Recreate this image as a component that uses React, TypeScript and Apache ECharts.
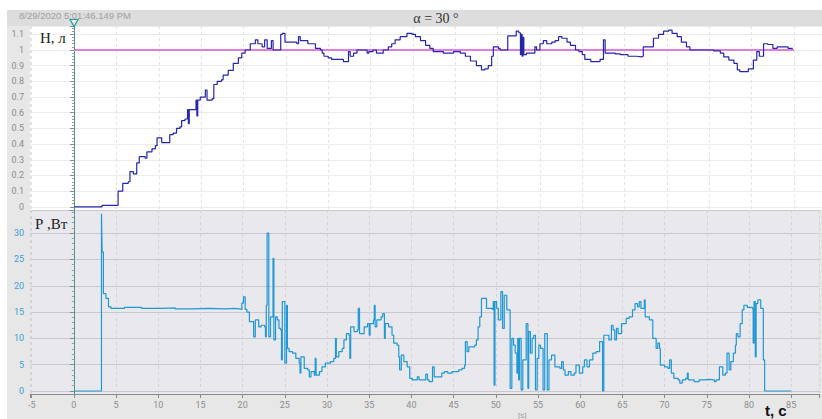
import React, { useEffect, useRef } from "react";
import * as echarts from "echarts";

// Level H (л) – time (s) and value, sample-and-hold
const hT = [0, 3.3, 5.2, 5.75, 6.4, 6.6, 7.0, 7.4, 7.7, 8.4, 8.6, 9.2, 9.6, 9.8, 10.35, 11.3, 11.7, 12.1, 12.5, 12.7, 13.1, 13.4, 13.5, 13.6, 14.4, 14.5, 14.6, 14.9, 15.5, 15.7, 16.3, 16.5, 16.9, 17.4, 17.6, 18.2, 18.8, 19.4, 19.8, 20.2, 20.8, 21.4, 21.7, 22.2, 22.5, 22.8, 23.3, 23.5, 24.4, 24.6, 24.9, 26.3, 26.5, 26.7, 27.6, 28.5, 29.1, 29.3, 29.5, 30.0, 30.4, 31.8, 32.4, 32.6, 33.0, 33.4, 34.6, 34.8, 35.3, 35.7, 36.5, 37.1, 37.5, 37.9, 38.5, 39.3, 39.9, 40.3, 40.9, 41.5, 42.0, 42.4, 43.6, 44.8, 45.6, 46.2, 46.8, 47.5, 48.1, 48.5, 48.9, 49.3, 49.5, 50.1, 50.3, 51.2, 52.2, 52.5, 52.7, 52.8, 52.9, 53.0, 53.1, 53.4, 54.4, 54.6, 55.0, 55.4, 55.8, 56.4, 56.8, 57.2, 57.6, 58.2, 58.6, 59.2, 59.6, 60.0, 60.3, 61.0, 62.1, 62.5, 62.7, 63.9, 64.5, 65.4, 66.4, 67.0, 67.2, 68.4, 69.0, 69.6, 70.2, 70.6, 71.2, 71.7, 72.3, 72.7, 75.5, 76.3, 76.7, 77.3, 77.9, 78.3, 78.6, 79.6, 80.2, 80.6, 80.9, 81.4, 81.9, 82.5, 83.0, 84.3, 84.8];
const hV = [0, 0.01, 0.1, 0.15, 0.16, 0.225, 0.21, 0.28, 0.32, 0.31, 0.35, 0.37, 0.39, 0.44, 0.41, 0.46, 0.47, 0.5, 0.51, 0.55, 0.56, 0.62, 0.53, 0.62, 0.68, 0.58, 0.68, 0.7, 0.745, 0.68, 0.69, 0.78, 0.8, 0.81, 0.84, 0.87, 0.915, 0.95, 0.98, 1.0, 1.04, 1.065, 1.04, 1.02, 1.065, 1.01, 1.06, 1.0, 1.1, 1.106, 1.05, 1.04, 1.085, 1.06, 1.04, 1.01, 1.0, 0.98, 0.96, 0.95, 0.94, 0.926, 0.99, 0.96, 0.98, 1.0, 0.98, 0.99, 1.0, 0.98, 1.0, 1.02, 1.04, 1.065, 1.085, 1.106, 1.1, 1.085, 1.06, 1.03, 1.01, 0.99, 0.98, 0.99, 0.98, 0.96, 0.93, 0.9, 0.873, 0.88, 0.9, 0.96, 1.02, 1.01, 1.0, 1.09, 1.12, 1.11, 0.97, 1.1, 0.96, 1.08, 0.97, 0.98, 1.02, 1.0, 1.04, 1.06, 1.04, 1.05, 1.06, 1.085, 1.075, 1.05, 1.03, 1.0, 0.99, 0.97, 0.94, 0.926, 0.94, 1.065, 0.98, 0.975, 0.97, 0.96, 0.956, 0.96, 1.02, 1.075, 1.1, 1.12, 1.127, 1.106, 1.085, 1.05, 1.02, 1.0, 0.995, 0.98, 0.956, 0.936, 0.915, 0.873, 0.862, 0.88, 0.936, 0.99, 0.96, 1.04, 1.035, 1.01, 1.02, 1.01, 1.015];

// Power P (Вт) – time (s) and value, sample-and-hold
const pT = [0, 3.27, 3.35, 3.5, 3.8, 4.1, 4.4, 6.0, 8.0, 10.5, 12.0, 14.0, 16.0, 18.0, 19.0, 19.6, 19.9, 20.1, 20.3, 20.5, 20.8, 21.3, 21.5, 21.9, 22.2, 22.6, 22.7, 22.8, 22.9, 23.1, 23.3, 23.6, 23.7, 23.9, 24.1, 24.3, 24.5, 24.6, 24.7, 25.0, 25.2, 25.3, 25.5, 25.9, 26.3, 26.7, 26.8, 26.9, 27.3, 27.7, 27.9, 28.1, 28.5, 28.6, 28.7, 29.1, 29.4, 29.8, 30.4, 30.8, 31.0, 31.1, 31.4, 31.8, 32.0, 32.3, 32.6, 32.7, 32.8, 33.2, 33.6, 33.7, 33.85, 34.4, 34.8, 35.0, 35.1, 35.5, 35.6, 35.7, 35.9, 36.4, 36.6, 36.8, 36.9, 37.3, 37.7, 37.9, 38.3, 38.5, 38.6, 38.8, 39.1, 39.5, 39.8, 40.1, 40.7, 40.9, 41.7, 41.9, 42.1, 42.5, 42.7, 43.6, 43.9, 44.3, 44.8, 45.6, 46.0, 46.3, 46.4, 46.6, 46.8, 47.5, 47.7, 47.9, 48.1, 48.3, 48.9, 49.6, 49.7, 49.8, 49.9, 50.1, 50.3, 50.6, 50.8, 51.0, 51.3, 51.7, 51.9, 52.1, 52.3, 52.5, 52.6, 52.7, 52.8, 53.0, 53.2, 53.6, 53.8, 53.9, 54.1, 54.3, 54.5, 54.7, 54.9, 55.1, 55.3, 55.6, 55.8, 56.1, 56.3, 56.6, 57.0, 57.6, 57.8, 58.0, 58.2, 58.6, 58.9, 59.3, 59.5, 59.9, 60.3, 60.5, 60.8, 61.1, 61.5, 61.9, 62.3, 62.65, 62.8, 63.4, 63.7, 63.9, 64.1, 64.3, 64.5, 64.9, 65.45, 65.8, 66.2, 66.5, 66.8, 67.0, 67.2, 67.6, 67.7, 68.2, 68.6, 69.0, 69.2, 69.4, 69.5, 70.0, 70.4, 70.6, 70.8, 71.1, 71.6, 71.8, 72.1, 72.5, 72.7, 72.8, 73.5, 74.1, 74.7, 75.3, 75.9, 76.1, 76.5, 76.9, 77.2, 77.4, 77.65, 77.85, 78.15, 78.4, 78.5, 78.7, 78.95, 79.2, 79.4, 79.8, 80.4, 80.5, 80.6, 80.75, 80.85, 81.05, 81.4, 81.7, 81.86, 85.0];
const pV = [0, 33.7, 26.4, 18.5, 17.6, 16.0, 15.7, 15.9, 15.7, 15.8, 15.6, 15.7, 15.6, 15.7, 15.6, 15.5, 16.7, 17.9, 15.5, 15.0, 13.2, 10.3, 13.5, 12.2, 12.5, 12.2, 10.3, 16.3, 30.0, 10.3, 14.1, 25.2, 9.7, 14.1, 13.5, 11.9, 11.6, 5.9, 17.0, 5.3, 16.3, 8.1, 7.5, 7.2, 6.2, 5.3, 3.4, 6.5, 4.3, 4.0, 2.7, 3.7, 3.0, 6.2, 3.0, 3.7, 4.6, 5.3, 5.6, 6.2, 10.0, 6.5, 7.5, 8.1, 9.7, 10.9, 10.6, 6.2, 12.2, 11.3, 11.6, 15.7, 10.9, 12.2, 12.8, 10.6, 12.8, 13.5, 16.3, 12.2, 13.5, 14.1, 14.7, 10.0, 12.8, 12.2, 10.6, 9.1, 8.7, 6.5, 4.0, 6.8, 5.6, 4.6, 2.4, 2.1, 2.7, 2.1, 3.2, 2.1, 1.8, 4.6, 2.7, 3.4, 3.7, 3.4, 3.7, 4.0, 4.3, 4.9, 9.4, 7.5, 8.4, 8.7, 9.7, 12.2, 14.1, 17.6, 15.7, 15.5, 17.0, 1.1, 17.0, 15.7, 13.5, 18.9, 11.9, 18.2, 15.4, 0.5, 10.0, 8.7, 7.2, 3.4, 10.0, 2.1, 10.0, 0.2, 5.9, 12.8, 0.5, 11.3, 7.2, 10.0, 10.6, 0.2, 6.2, 8.7, 8.1, 0.2, 10.9, 0.2, 5.9, 6.8, 4.6, 4.3, 5.6, 4.0, 3.0, 3.7, 3.0, 3.4, 4.9, 3.4, 4.6, 5.9, 4.6, 5.9, 7.2, 7.5, 9.4, 0, 10.6, 9.7, 12.5, 11.6, 9.7, 11.9, 10.9, 12.8, 13.8, 14.1, 15.4, 16.6, 16.0, 17.0, 15.7, 17.3, 14.1, 13.5, 10.0, 8.1, 9.1, 8.1, 4.9, 4.6, 4.3, 5.9, 3.4, 2.4, 2.1, 1.5, 2.1, 2.4, 3.4, 2.1, 1.8, 2.1, 2.2, 2.1, 1.8, 2.1, 4.6, 3.0, 3.4, 7.2, 4.0, 5.6, 7.2, 8.7, 10.9, 10.3, 12.8, 15.4, 16.3, 15.9, 15.7, 9.1, 17.0, 6.5, 16.6, 17.3, 15.7, 5.9, 0, 0];

// Set-point line (л)
const refT = [0, 85];
const refV = [1, 1];

const cursorT = 0;

const labelFont = "Roboto";

export default function App() {
  const ref = useRef<HTMLDivElement>(null);
  useEffect(() => {
    if (!ref.current) return;
    const chart = echarts.init(ref.current, null, { renderer: "svg" });
    const fmt5 = (v: number) => (Math.abs(v / 5 - Math.round(v / 5)) < 1e-6 ? String(Math.round(v)) : "");
    const fmt01 = (v: number) =>
      Math.abs(v * 10 - Math.round(v * 10)) < 1e-6 ? String(Math.round(v * 10) / 10) : "";
    const xCommon = {
      type: "value",
      min: -5.2,
      max: 88.3,
      minInterval: 5,
      maxInterval: 5,
    };
    chart.setOption({
      animation: false,
      backgroundColor: "#ffffff",
      grid: [
        { left: 30, right: 0, top: 26, height: 184, show: true, backgroundColor: "#ffffff", borderWidth: 0 },
        { left: 30, right: 0, top: 210, height: 184, show: true, backgroundColor: "#e8e8ed", borderWidth: 0 },
      ],
      xAxis: [
        {
          ...xCommon,
          gridIndex: 0,
          axisLine: { show: false },
          axisTick: { show: false },
          axisLabel: { show: false },
          splitLine: { show: true, lineStyle: { color: "#e2e2e2", type: [3, 3], width: 1 } },
        },
        {
          ...xCommon,
          gridIndex: 1,
          axisLine: { show: true, onZero: false, lineStyle: { color: "#8a8a8a", width: 1 } },
          axisTick: { show: true, length: 4, lineStyle: { color: "#8a8a8a" } },
          axisLabel: { show: true, color: "#8c8c8c", fontSize: 9, fontFamily: labelFont, margin: 6, formatter: fmt5 },
          splitLine: { show: true, lineStyle: { color: "#d2d2d8", type: [3, 3], width: 1 } },
        },
      ],
      yAxis: [
        {
          type: "value",
          gridIndex: 0,
          min: -0.02,
          max: 1.153,
          minInterval: 0.1,
          maxInterval: 0.1,
          axisLine: { show: true, lineStyle: { color: "#8a8a8a" } },
          axisTick: { show: true, length: 4, lineStyle: { color: "#8a8a8a" } },
          minorTick: { show: true, splitNumber: 5, length: 2, lineStyle: { color: "#9a9a9a" } },
          axisLabel: { color: "#8c8c8c", fontSize: 9, fontFamily: labelFont, margin: 6, formatter: fmt01 },
          splitLine: { show: true, lineStyle: { color: "#ececec", width: 1 } },
        },
        {
          type: "value",
          gridIndex: 1,
          min: -0.57,
          max: 34.4,
          minInterval: 5,
          maxInterval: 5,
          axisLine: { show: true, lineStyle: { color: "#8a8a8a" } },
          axisTick: { show: true, length: 4, lineStyle: { color: "#8a8a8a" } },
          minorTick: { show: true, splitNumber: 5, length: 2, lineStyle: { color: "#9a9a9a" } },
          axisLabel: { color: "#3c9ed8", fontSize: 9, fontFamily: labelFont, margin: 6, formatter: fmt5 },
          splitLine: { show: true, lineStyle: { color: "#c8c8ce", width: 1 } },
        },
      ],
      graphic: [
        { type: "rect", z: -10, silent: true, shape: { x: 7, y: 10, width: 815, height: 409 }, style: { fill: "#e7e7e7" } },
        { type: "rect", z: -9, silent: true, shape: { x: 7, y: 10, width: 815, height: 16 }, style: { fill: "#dddddd" } },
        {
          type: "text", z: 10, x: 19, y: 10,
          style: { text: "8/29/2020 5:01:46.149 PM", fill: "#a0a0a0", font: "9.5px 'Liberation Sans'", textVerticalAlign: "top" },
        },
        {
          type: "text", z: 10, x: 436, y: 18,
          style: { text: "α = 30 °", fill: "#333333", font: "14px 'Liberation Serif'", textAlign: "center", textVerticalAlign: "middle" },
        },
        {
          type: "text", z: 10, x: 40, y: 38,
          style: { text: "Н, л", fill: "#222222", font: "15px 'Liberation Serif'", textVerticalAlign: "middle" },
        },
        {
          type: "text", z: 10, x: 35, y: 224,
          style: { text: "Р ,Вт", fill: "#222222", font: "15px 'Liberation Serif'", textVerticalAlign: "middle" },
        },
        {
          type: "text", z: 10, x: 518, y: 411,
          style: { text: "[s]", fill: "#9a9a9a", font: "8px 'Liberation Sans'", textVerticalAlign: "top" },
        },
        {
          type: "text", z: 10, x: 765, y: 403,
          style: { text: "t, с", fill: "#111111", font: "bold 15px 'Liberation Sans'", textVerticalAlign: "top" },
        },
      ],
      series: [
        {
          type: "line",
          xAxisIndex: 0,
          yAxisIndex: 0,
          data: refT.map((t, i) => [t, refV[i]]),
          symbol: "none",
          lineStyle: { color: "#e07ee0", width: 2 },
          z: 2,
        },
        {
          type: "line",
          xAxisIndex: 0,
          yAxisIndex: 0,
          data: hT.map((t, i) => [t, hV[i]]),
          step: "end",
          symbol: "none",
          lineStyle: { color: "#2626aa", width: 1.2 },
          z: 3,
          markLine: {
            silent: true,
            symbol: ["none", "none"],
            label: { show: false },
            lineStyle: { color: "#2a9d9d", type: [3, 2], width: 1 },
            data: [{ xAxis: cursorT }],
          },
          markPoint: {
            silent: true,
            data: [
              {
                coord: [cursorT, 1.153],
                symbol: "triangle",
                symbolSize: [8, 7],
                symbolRotate: 180,
                symbolOffset: [0, -3],
                itemStyle: { color: "#e6f6f6", borderColor: "#2a9d9d", borderWidth: 1.2 },
                label: { show: false },
              },
            ],
          },
        },
        {
          type: "line",
          xAxisIndex: 1,
          yAxisIndex: 1,
          data: pT.map((t, i) => [t, pV[i]]),
          step: "end",
          symbol: "none",
          lineStyle: { color: "#1f98d5", width: 1.2 },
          z: 3,
          markLine: {
            silent: true,
            symbol: ["none", "none"],
            label: { show: false },
            lineStyle: { color: "#2a9d9d", type: [3, 2], width: 1 },
            data: [{ xAxis: cursorT }],
          },
        },
      ],
    });
    return () => chart.dispose();
  }, []);
  return <div ref={ref} style={{ position: "absolute", left: 0, top: 0, width: 822, height: 419 }} />;
}
